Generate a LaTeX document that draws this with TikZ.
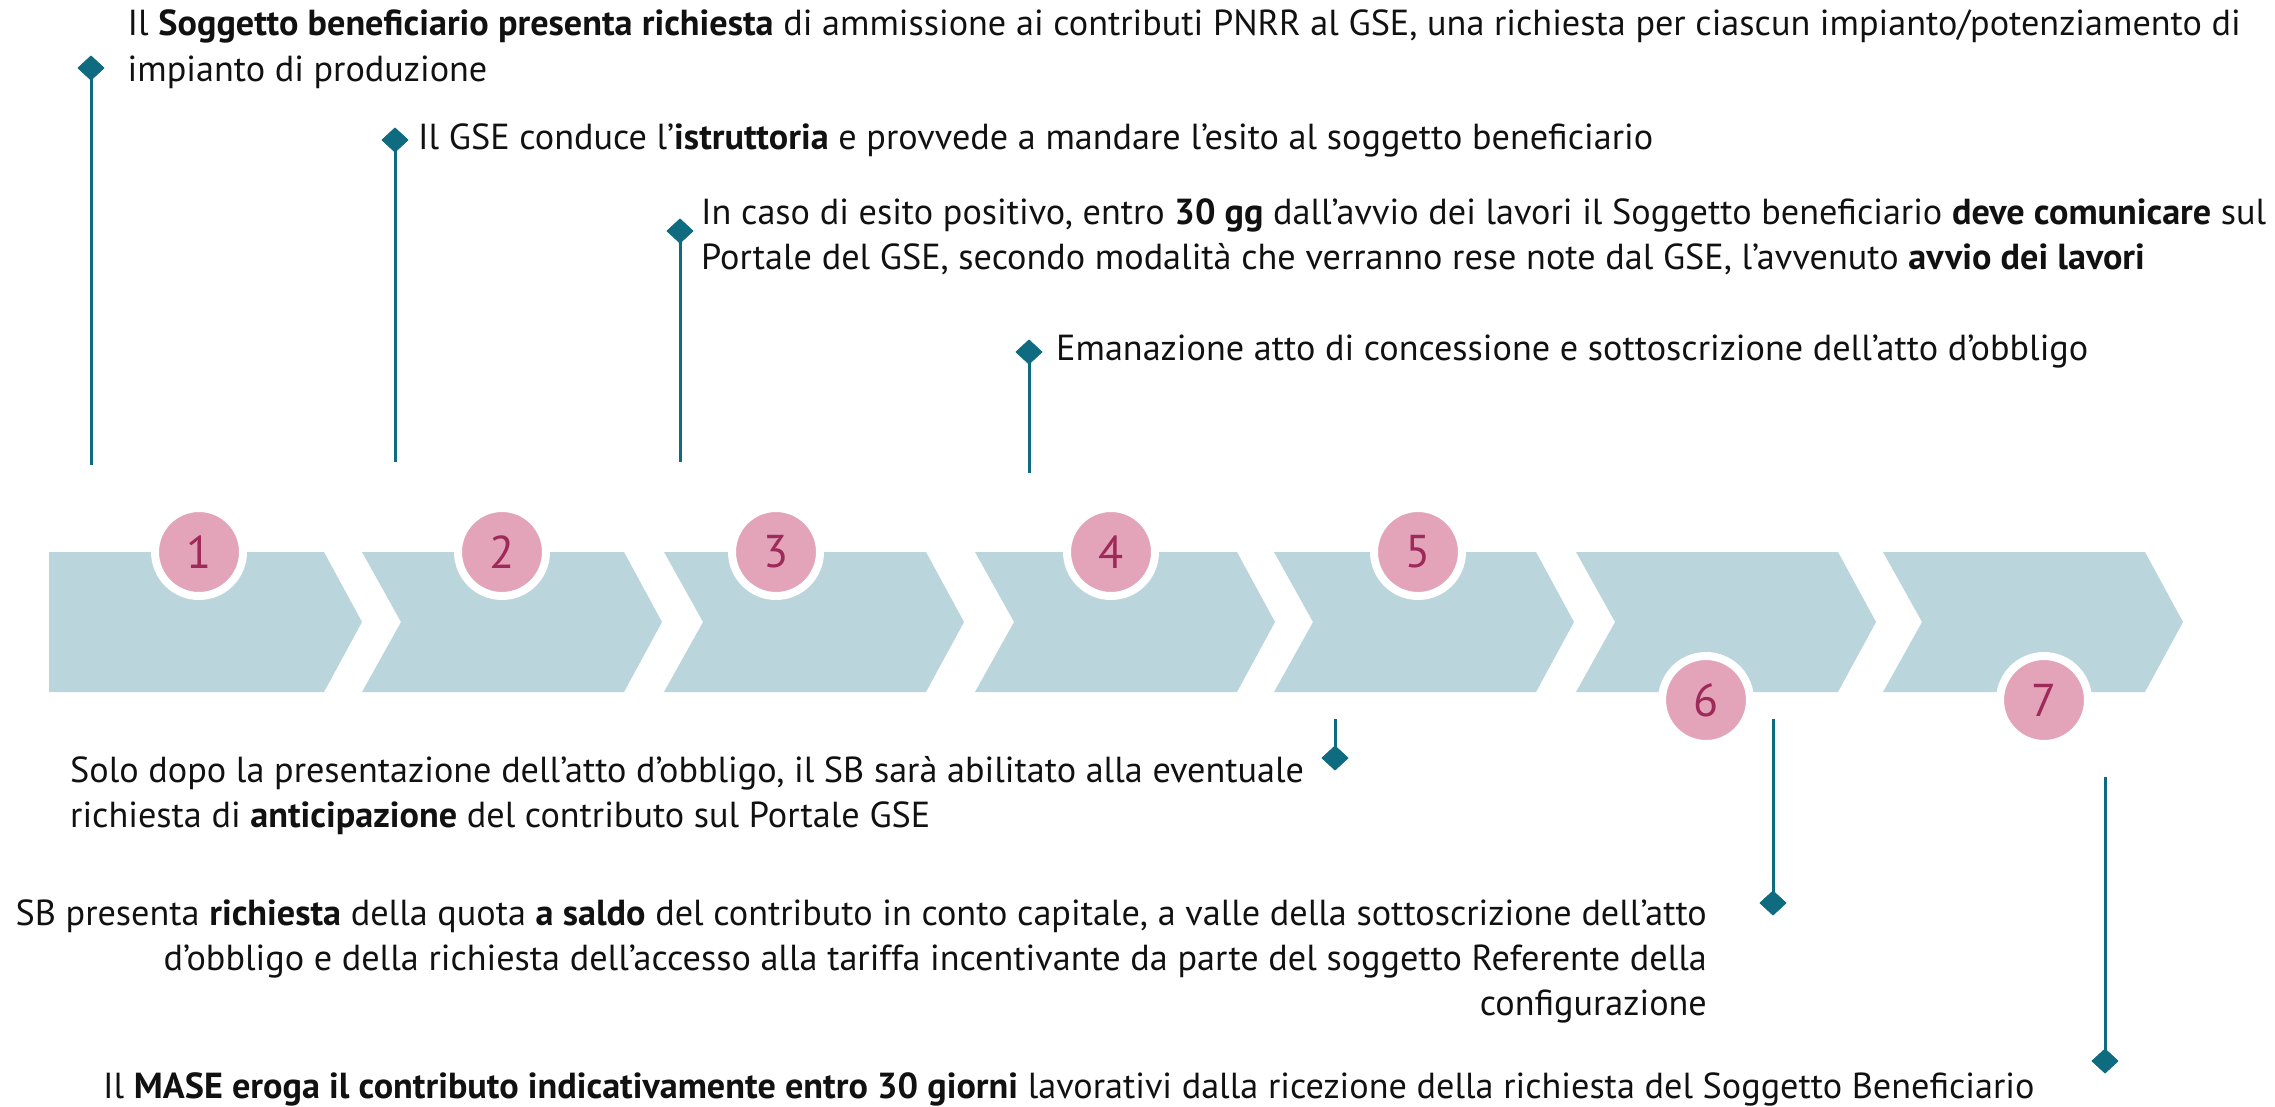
\documentclass[tikz,border=0pt]{standalone}
\usepackage{fontspec}
\setmainfont{PT Sans}
\usetikzlibrary{shapes.geometric}
\definecolor{chev}{HTML}{BAD5DB}
\definecolor{pinkc}{HTML}{E3A4BA}
\definecolor{numc}{HTML}{9E2A5A}
\definecolor{tealc}{HTML}{0E6B80}
\definecolor{txtc}{HTML}{111111}
\begin{document}
\begin{tikzpicture}[x=1pt,y=-1pt,
  chevron/.style={fill=chev},
  badge/.style={circle, fill=pinkc, draw=white, line width=8pt, minimum size=88pt, inner sep=0pt, font=\fontsize{46}{46}\selectfont, text=numc},
  marker/.style={diamond, fill=tealc, minimum width=27pt, minimum height=25pt, inner sep=0pt},
  conn/.style={draw=tealc, line width=3pt},
  lbl/.style={anchor=base west, inner sep=0pt, font=\fontsize{36.2}{44}\selectfont, text=txtc},
  lblr/.style={lbl, anchor=base east}]
\useasboundingbox (0,0) rectangle (2275,1107);
% chevrons
\fill[chevron] (49,552) -- (324,552) -- (362,622) -- (324,692) -- (49,692) -- cycle;
\foreach \L in {362,664,975,1274,1576,1883}{
  \fill[chevron] (\L,552) -- ({\L+262},552) -- ({\L+300},622) -- ({\L+262},692) -- (\L,692) -- ({\L+39},622) -- cycle;
}
% badges
\node[badge] (n1) at (199,552) {1};
\node[badge] (n2) at (502,552) {2};
\node[badge] (n3) at (776,552) {3};
\node[badge] (n4) at (1111,552) {4};
\node[badge] (n5) at (1418,552) {5};
\node[badge] (n6) at (1706,700) {6};
\node[badge] (n7) at (2044,700) {7};
% connectors
\coordinate (e1) at (91,465);
\coordinate (e2) at (395,462);
\coordinate (e3) at (680,462);
\coordinate (e4) at (1029,473);
\coordinate (e5) at (1335,719);
\coordinate (e6) at (1773,719);
\coordinate (e7) at (2105,777);
\node[marker] (d1) at (91,68) {};
\node[marker] (d2) at (395,140) {};
\node[marker] (d3) at (680,231) {};
\node[marker] (d4) at (1029,352) {};
\node[marker] (d5) at (1335,758) {};
\node[marker] (d6) at (1773,903) {};
\node[marker] (d7) at (2105,1061) {};
\foreach \i in {1,...,7}{ \draw[conn] (d\i.center) -- (e\i); }
\foreach \i in {1,...,7}{ \node[marker] at (d\i) {}; }
% texts
\node[lbl] (t1a) at (127.5,36) {Il \textbf{Soggetto beneficiario presenta richiesta} di ammissione ai contributi PNRR al GSE, una richiesta per ciascun impianto/potenziamento di};
\node[lbl] (t1b) at (127.5,82) {impianto di produzione};
\node[lbl] (t2) at (418,150) {Il GSE conduce l’\textbf{istruttoria} e provvede a mandare l’esito al soggetto beneficiario};
\node[lbl] (t3a) at (701,225) {In caso di esito positivo, entro \textbf{30 gg} dall’avvio dei lavori il Soggetto beneficiario \textbf{deve comunicare} sul};
\node[lbl] (t3b) at (701,270) {Portale del GSE, secondo modalità che verranno rese note dal GSE, l’avvenuto \textbf{avvio dei lavori}};
\node[lbl] (t4) at (1056,360) {Emanazione atto di concessione e sottoscrizione dell’atto d’obbligo};
\node[lbl] (t5a) at (70,782) {Solo dopo la presentazione dell’atto d’obbligo, il SB sarà abilitato alla eventuale};
\node[lbl] (t5b) at (70,827) {richiesta di \textbf{anticipazione} del contributo sul Portale GSE};
\node[lblr] (t6a) at (1707,925) {SB presenta \textbf{richiesta} della quota \textbf{a saldo} del contributo in conto capitale, a valle della sottoscrizione dell’atto};
\node[lblr] (t6b) at (1707,970) {d’obbligo e della richiesta dell’accesso alla tariffa incentivante da parte del soggetto Referente della};
\node[lblr] (t6c) at (1707,1015) {configurazione};
\node[lbl] (t7) at (103,1098) {Il \textbf{MASE eroga il contributo indicativamente entro 30 giorni} lavorativi dalla ricezione della richiesta del Soggetto Beneficiario};
\end{tikzpicture}
\end{document}
